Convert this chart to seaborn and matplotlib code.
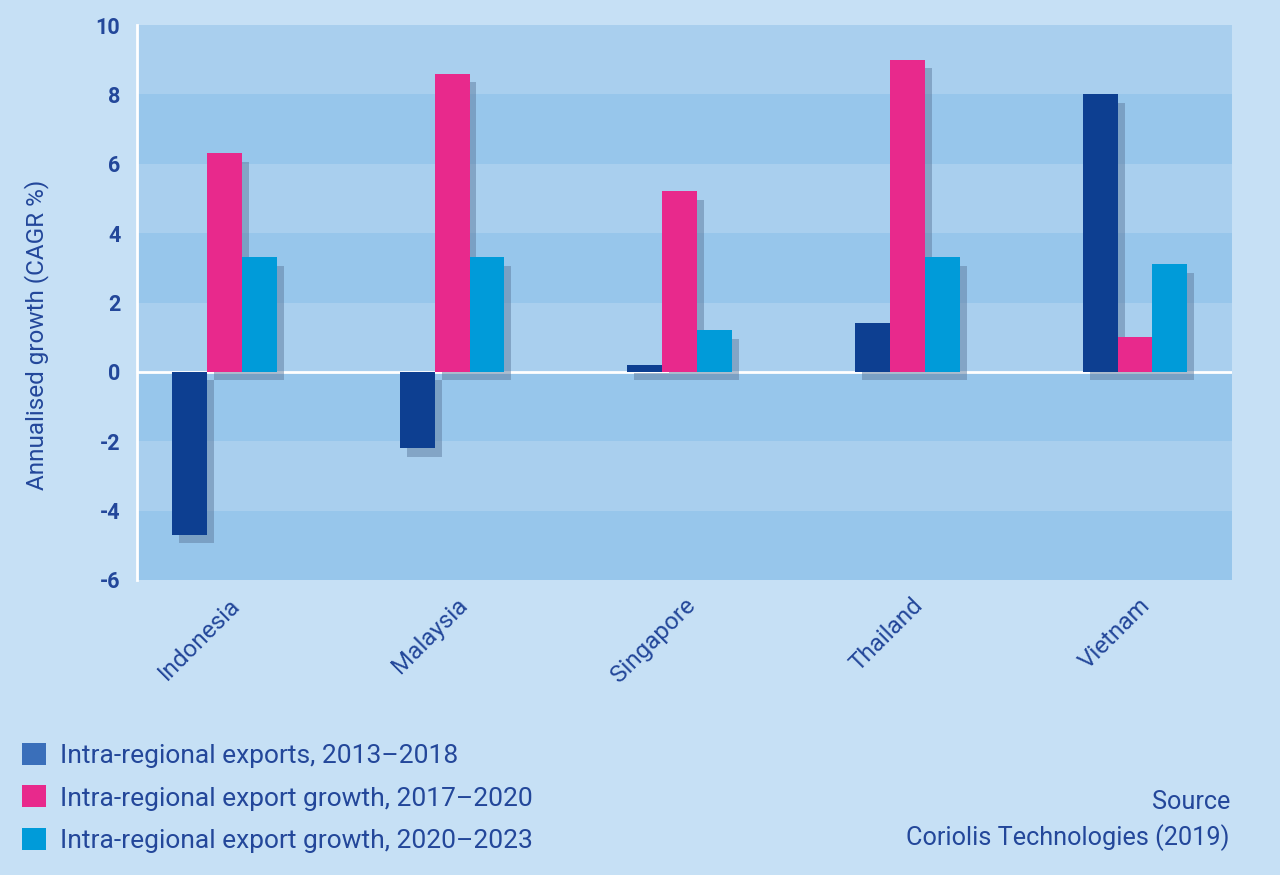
import numpy as np
import pandas as pd
import matplotlib
matplotlib.use("Agg")
import matplotlib.pyplot as plt
import matplotlib.patheffects as pe
from matplotlib.patches import Patch
from matplotlib.transforms import ScaledTranslation
import seaborn as sns

# ---- data ----
countries = ["Indonesia", "Malaysia", "Singapore", "Thailand", "Vietnam"]
series_names = [
    "Intra-regional exports, 2013\u20132018",
    "Intra-regional export growth, 2017\u20132020",
    "Intra-regional export growth, 2020\u20132023",
]
exports_2013_2018 = [-4.7, -2.2, 0.2, 1.4, 8.0]
growth_2017_2020 = [6.3, 8.6, 5.2, 9.0, 1.0]
growth_2020_2023 = [3.3, 3.3, 1.2, 3.3, 3.1]
y_ticks = [-6, -4, -2, 0, 2, 4, 6, 8, 10]
source_lines = ["Source", "Coriolis Technologies (2019)"]
y_label = "Annualised growth (CAGR %)"

df = pd.DataFrame({
    "country": countries * 3,
    "series": [series_names[0]] * 5 + [series_names[1]] * 5 + [series_names[2]] * 5,
    "value": exports_2013_2018 + growth_2017_2020 + growth_2020_2023,
})

# ---- style ----
sns.set_theme(style="white")
plt.rcParams["font.family"] = ["Roboto", "DejaVu Sans"]

fig_bg = "#c6e0f5"
band_light = "#a9cfee"
band_dark = "#97c6eb"
text_col = "#23479a"
bar_cols = ["#0d3f91", "#e8298c", "#009bd9"]
legend_cols = ["#3a6fba", "#e8298c", "#009bd9"]

fig = plt.figure(figsize=(12.8, 8.75), dpi=100, facecolor=fig_bg)
ax = fig.add_axes([137 / 1280, 1 - 580 / 875, (1232 - 137) / 1280, (580 - 25) / 875])
ax.set_facecolor(band_light)

sns.barplot(
    data=df, x="country", y="value", hue="series",
    order=countries, hue_order=series_names,
    palette=bar_cols, width=0.46, gap=0, dodge=True,
    saturation=1, errorbar=None, ax=ax, zorder=3, linewidth=0,
)

shadow = [pe.SimplePatchShadow(offset=(5, -6), shadow_rgbFace="#5f7c9f", alpha=0.5), pe.Normal()]
for cont in ax.containers:
    for p in cont:
        p.set_path_effects(shadow)

# alternating horizontal bands (drawn behind the bars)
for i, (lo, hi) in enumerate(zip(y_ticks[:-1], y_ticks[1:])):
    ax.axhspan(lo, hi, color=band_dark if i % 2 == 0 else band_light, lw=0, zorder=0)

ax.axhline(0, color="white", lw=2, zorder=2.5)
ax.set_ylim(-6, 10)
ax.set_xlim(-0.384, 4.426)
ax.set_yticks(y_ticks)
ax.set_yticklabels([str(t) for t in y_ticks], color=text_col, fontsize=15.5, fontweight="bold")
ax.tick_params(axis="y", length=0, pad=12)
ax.tick_params(axis="x", length=0, pad=2)
ax.set_xticks(range(len(countries)))
ax.set_xticklabels(countries, rotation=45, ha="right", va="center",
                   rotation_mode="anchor", color=text_col, fontsize=17.5)
offset = ScaledTranslation(12 / 100, -19 / 100, fig.dpi_scale_trans)
for lbl in ax.get_xticklabels():
    lbl.set_transform(lbl.get_transform() + offset)

ax.set_xlabel("")
ax.set_ylabel(y_label, color=text_col, fontsize=17.5)
ax.yaxis.set_label_coords((49 - 137) / 1095, (580 - 335) / 555)

for s in ["top", "right", "bottom"]:
    ax.spines[s].set_visible(False)
ax.spines["left"].set_color("white")
ax.spines["left"].set_linewidth(2)

if ax.get_legend() is not None:
    ax.get_legend().remove()

handles = [Patch(facecolor=c, edgecolor="none") for c in legend_cols]
fig.legend(
    handles, series_names, loc="upper left",
    bbox_to_anchor=(22 / 1280, 1 - 743 / 875),
    frameon=False, fontsize=19, labelcolor=text_col,
    handlelength=0.9, handleheight=0.9, handletextpad=0.55,
    labelspacing=0.66, borderaxespad=0, borderpad=0,
)

fig.text(1230 / 1280, 1 - 802 / 875, source_lines[0], ha="right", va="center",
         color=text_col, fontsize=18.2)
fig.text(1230 / 1280, 1 - 838 / 875, source_lines[1], ha="right", va="center",
         color=text_col, fontsize=18.2)

fig.savefig("out.png", dpi=100, facecolor=fig_bg)
